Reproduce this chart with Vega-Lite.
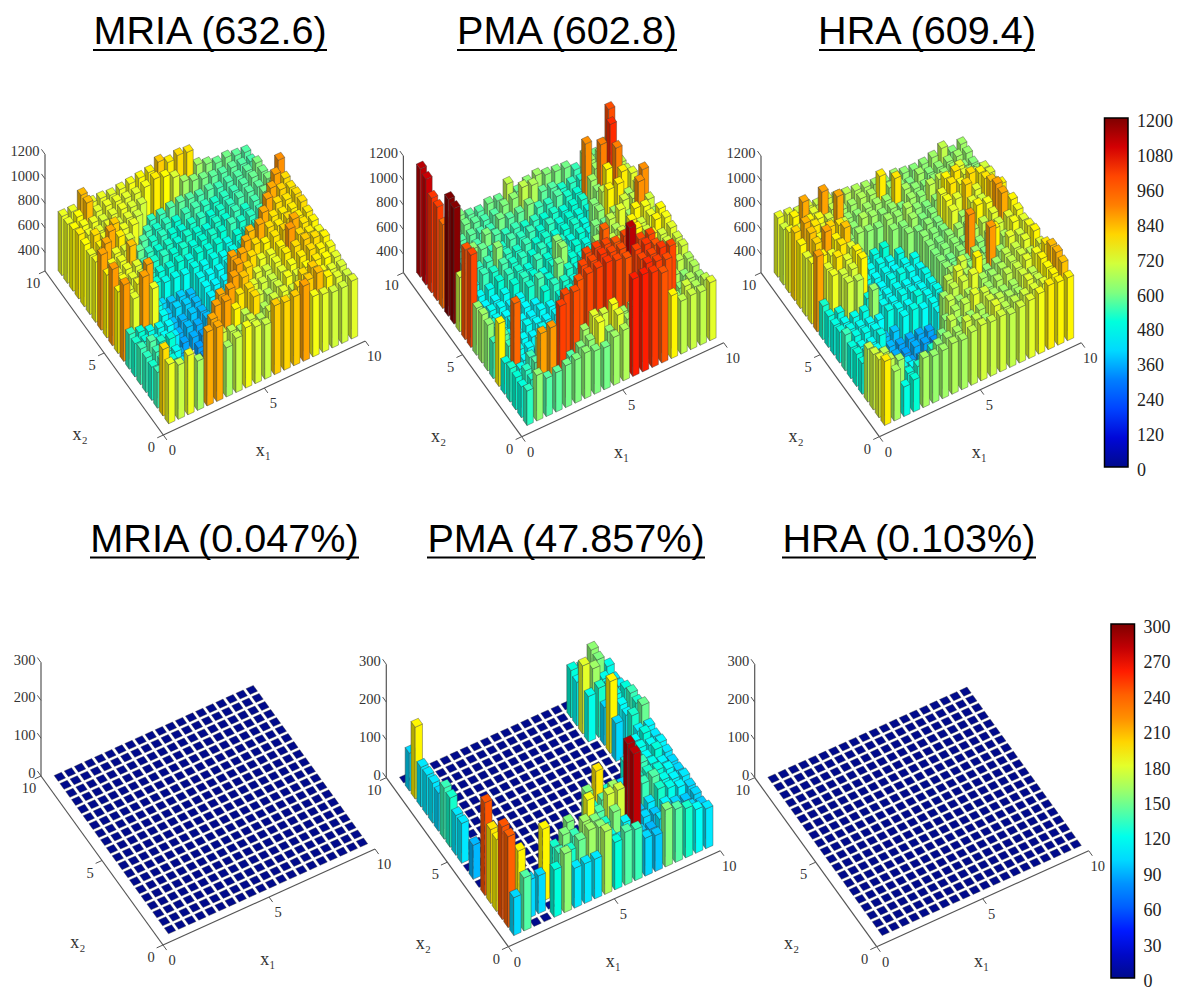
{"$schema":"https://vega.github.io/schema/vega-lite/v6.json","width":1179,"height":989,"padding":0,"autosize":{"type":"none"},"background":"#ffffff","config":{"view":{"stroke":null}},
"datasets":{"bars":[
{"i":0,"j":19,"a":730,"b":1130,"c":730,"d":0,"e":0,"f":0},{"i":1,"j":19,"a":730,"b":560,"c":720,"d":0,"e":0,"f":0},{"i":2,"j":19,"a":830,"b":590,"c":700,"d":0,"e":0,"f":0},{"i":3,"j":19,"a":730,"b":620,"c":710,"d":0,"e":0,"f":0},{"i":4,"j":19,"a":730,"b":600,"c":690,"d":0,"e":0,"f":0},{"i":5,"j":19,"a":720,"b":570,"c":700,"d":0,"e":0,"f":0},{"i":6,"j":19,"a":730,"b":560,"c":680,"d":0,"e":0,"f":0},{"i":7,"j":19,"a":740,"b":590,"c":670,"d":0,"e":0,"f":0},{"i":8,"j":19,"a":750,"b":580,"c":660,"d":0,"e":0,"f":0},{"i":9,"j":19,"a":760,"b":680,"c":650,"d":0,"e":0,"f":0},{"i":10,"j":19,"a":810,"b":580,"c":640,"d":0,"e":0,"f":0},{"i":11,"j":19,"a":770,"b":620,"c":620,"d":0,"e":0,"f":0},{"i":12,"j":19,"a":790,"b":640,"c":640,"d":0,"e":0,"f":0},{"i":13,"j":19,"a":780,"b":610,"c":620,"d":0,"e":0,"f":0},{"i":14,"j":19,"a":640,"b":600,"c":610,"d":0,"e":0,"f":0},{"i":15,"j":19,"a":610,"b":590,"c":620,"d":0,"e":0,"f":0},{"i":16,"j":19,"a":580,"b":540,"c":640,"d":0,"e":0,"f":0},{"i":17,"j":19,"a":590,"b":620,"c":680,"d":0,"e":0,"f":0},{"i":18,"j":19,"a":570,"b":590,"c":610,"d":60,"e":0,"f":0},{"i":19,"j":19,"a":560,"b":640,"c":640,"d":85,"e":0,"f":0},
{"i":0,"j":18,"a":730,"b":1110,"c":700,"d":100,"e":0,"f":0},{"i":1,"j":18,"a":750,"b":570,"c":760,"d":0,"e":0,"f":0},{"i":2,"j":18,"a":830,"b":620,"c":850,"d":0,"e":0,"f":0},{"i":3,"j":18,"a":720,"b":560,"c":720,"d":0,"e":0,"f":0},{"i":4,"j":18,"a":730,"b":590,"c":860,"d":0,"e":0,"f":0},{"i":5,"j":18,"a":730,"b":570,"c":680,"d":0,"e":0,"f":0},{"i":6,"j":18,"a":720,"b":550,"c":640,"d":0,"e":0,"f":0},{"i":7,"j":18,"a":720,"b":560,"c":640,"d":0,"e":0,"f":0},{"i":8,"j":18,"a":740,"b":600,"c":660,"d":0,"e":0,"f":0},{"i":9,"j":18,"a":770,"b":620,"c":650,"d":0,"e":0,"f":0},{"i":10,"j":18,"a":750,"b":680,"c":770,"d":0,"e":0,"f":0},{"i":11,"j":18,"a":710,"b":660,"c":640,"d":0,"e":0,"f":0},{"i":12,"j":18,"a":640,"b":570,"c":620,"d":0,"e":0,"f":0},{"i":13,"j":18,"a":610,"b":560,"c":600,"d":0,"e":0,"f":0},{"i":14,"j":18,"a":590,"b":520,"c":640,"d":0,"e":0,"f":0},{"i":15,"j":18,"a":570,"b":530,"c":610,"d":0,"e":0,"f":0},{"i":16,"j":18,"a":560,"b":520,"c":620,"d":125,"e":0,"f":0},{"i":17,"j":18,"a":570,"b":640,"c":630,"d":120,"e":0,"f":0},{"i":18,"j":18,"a":560,"b":660,"c":640,"d":155,"e":0,"f":0},{"i":19,"j":18,"a":550,"b":990,"c":630,"d":70,"e":0,"f":0},
{"i":0,"j":17,"a":750,"b":1020,"c":740,"d":190,"e":0,"f":0},{"i":1,"j":17,"a":740,"b":540,"c":720,"d":0,"e":0,"f":0},{"i":2,"j":17,"a":730,"b":680,"c":760,"d":0,"e":0,"f":0},{"i":3,"j":17,"a":710,"b":560,"c":740,"d":0,"e":0,"f":0},{"i":4,"j":17,"a":720,"b":570,"c":700,"d":0,"e":0,"f":0},{"i":5,"j":17,"a":730,"b":550,"c":850,"d":0,"e":0,"f":0},{"i":6,"j":17,"a":710,"b":540,"c":630,"d":0,"e":0,"f":0},{"i":7,"j":17,"a":700,"b":590,"c":620,"d":0,"e":0,"f":0},{"i":8,"j":17,"a":530,"b":560,"c":640,"d":0,"e":0,"f":0},{"i":9,"j":17,"a":540,"b":570,"c":640,"d":0,"e":0,"f":0},{"i":10,"j":17,"a":560,"b":600,"c":630,"d":0,"e":0,"f":0},{"i":11,"j":17,"a":570,"b":540,"c":780,"d":0,"e":0,"f":0},{"i":12,"j":17,"a":560,"b":530,"c":650,"d":0,"e":0,"f":0},{"i":13,"j":17,"a":550,"b":560,"c":620,"d":0,"e":0,"f":0},{"i":14,"j":17,"a":560,"b":520,"c":610,"d":0,"e":0,"f":0},{"i":15,"j":17,"a":540,"b":510,"c":620,"d":0,"e":0,"f":0},{"i":16,"j":17,"a":550,"b":880,"c":630,"d":115,"e":0,"f":0},{"i":17,"j":17,"a":560,"b":640,"c":640,"d":125,"e":0,"f":0},{"i":18,"j":17,"a":570,"b":700,"c":620,"d":150,"e":0,"f":0},{"i":19,"j":17,"a":600,"b":660,"c":610,"d":120,"e":0,"f":0},
{"i":0,"j":16,"a":770,"b":1010,"c":800,"d":105,"e":0,"f":0},{"i":1,"j":16,"a":730,"b":530,"c":840,"d":0,"e":0,"f":0},{"i":2,"j":16,"a":720,"b":560,"c":780,"d":0,"e":0,"f":0},{"i":3,"j":16,"a":730,"b":540,"c":720,"d":0,"e":0,"f":0},{"i":4,"j":16,"a":710,"b":550,"c":640,"d":0,"e":0,"f":0},{"i":5,"j":16,"a":720,"b":600,"c":690,"d":0,"e":0,"f":0},{"i":6,"j":16,"a":700,"b":560,"c":620,"d":0,"e":0,"f":0},{"i":7,"j":16,"a":540,"b":530,"c":660,"d":0,"e":0,"f":0},{"i":8,"j":16,"a":520,"b":540,"c":640,"d":0,"e":0,"f":0},{"i":9,"j":16,"a":530,"b":520,"c":620,"d":0,"e":0,"f":0},{"i":10,"j":16,"a":510,"b":530,"c":630,"d":0,"e":0,"f":0},{"i":11,"j":16,"a":540,"b":510,"c":600,"d":0,"e":0,"f":0},{"i":12,"j":16,"a":550,"b":520,"c":640,"d":0,"e":0,"f":0},{"i":13,"j":16,"a":530,"b":500,"c":620,"d":0,"e":0,"f":0},{"i":14,"j":16,"a":520,"b":510,"c":680,"d":0,"e":0,"f":0},{"i":15,"j":16,"a":530,"b":520,"c":690,"d":0,"e":0,"f":0},{"i":16,"j":16,"a":540,"b":640,"c":660,"d":180,"e":0,"f":0},{"i":17,"j":16,"a":560,"b":900,"c":720,"d":160,"e":0,"f":0},{"i":18,"j":16,"a":580,"b":1030,"c":640,"d":120,"e":0,"f":0},{"i":19,"j":16,"a":590,"b":680,"c":620,"d":105,"e":0,"f":0},
{"i":0,"j":15,"a":750,"b":930,"c":760,"d":105,"e":0,"f":0},{"i":1,"j":15,"a":790,"b":540,"c":820,"d":0,"e":0,"f":0},{"i":2,"j":15,"a":730,"b":530,"c":740,"d":0,"e":0,"f":0},{"i":3,"j":15,"a":810,"b":620,"c":800,"d":0,"e":0,"f":0},{"i":4,"j":15,"a":730,"b":580,"c":780,"d":0,"e":0,"f":0},{"i":5,"j":15,"a":730,"b":530,"c":620,"d":0,"e":0,"f":0},{"i":6,"j":15,"a":560,"b":520,"c":640,"d":0,"e":0,"f":0},{"i":7,"j":15,"a":520,"b":550,"c":620,"d":0,"e":0,"f":0},{"i":8,"j":15,"a":530,"b":530,"c":610,"d":0,"e":0,"f":0},{"i":9,"j":15,"a":510,"b":540,"c":640,"d":0,"e":0,"f":0},{"i":10,"j":15,"a":500,"b":510,"c":630,"d":0,"e":0,"f":0},{"i":11,"j":15,"a":520,"b":530,"c":660,"d":0,"e":0,"f":0},{"i":12,"j":15,"a":530,"b":500,"c":620,"d":0,"e":0,"f":0},{"i":13,"j":15,"a":510,"b":510,"c":600,"d":0,"e":0,"f":0},{"i":14,"j":15,"a":520,"b":500,"c":620,"d":0,"e":0,"f":0},{"i":15,"j":15,"a":530,"b":500,"c":760,"d":0,"e":0,"f":0},{"i":16,"j":15,"a":550,"b":620,"c":780,"d":120,"e":0,"f":0},{"i":17,"j":15,"a":560,"b":760,"c":720,"d":130,"e":0,"f":0},{"i":18,"j":15,"a":570,"b":900,"c":690,"d":120,"e":0,"f":0},{"i":19,"j":15,"a":600,"b":680,"c":700,"d":110,"e":0,"f":0},
{"i":0,"j":14,"a":730,"b":1200,"c":720,"d":105,"e":0,"f":0},{"i":1,"j":14,"a":760,"b":520,"c":800,"d":0,"e":0,"f":0},{"i":2,"j":14,"a":850,"b":510,"c":860,"d":0,"e":0,"f":0},{"i":3,"j":14,"a":770,"b":530,"c":760,"d":0,"e":0,"f":0},{"i":4,"j":14,"a":710,"b":540,"c":820,"d":0,"e":0,"f":0},{"i":5,"j":14,"a":580,"b":620,"c":600,"d":0,"e":0,"f":0},{"i":6,"j":14,"a":530,"b":530,"c":480,"d":0,"e":0,"f":0},{"i":7,"j":14,"a":510,"b":520,"c":490,"d":0,"e":0,"f":0},{"i":8,"j":14,"a":520,"b":540,"c":510,"d":0,"e":0,"f":0},{"i":9,"j":14,"a":500,"b":510,"c":620,"d":0,"e":0,"f":0},{"i":10,"j":14,"a":520,"b":520,"c":610,"d":0,"e":0,"f":0},{"i":11,"j":14,"a":510,"b":500,"c":640,"d":0,"e":0,"f":0},{"i":12,"j":14,"a":500,"b":510,"c":600,"d":0,"e":0,"f":0},{"i":13,"j":14,"a":520,"b":520,"c":610,"d":0,"e":0,"f":0},{"i":14,"j":14,"a":510,"b":490,"c":730,"d":0,"e":0,"f":0},{"i":15,"j":14,"a":540,"b":610,"c":780,"d":0,"e":0,"f":0},{"i":16,"j":14,"a":520,"b":680,"c":740,"d":0,"e":0,"f":0},{"i":17,"j":14,"a":550,"b":640,"c":790,"d":100,"e":0,"f":0},{"i":18,"j":14,"a":590,"b":770,"c":760,"d":120,"e":0,"f":0},{"i":19,"j":14,"a":620,"b":720,"c":720,"d":125,"e":0,"f":0},
{"i":0,"j":13,"a":740,"b":1190,"c":740,"d":100,"e":0,"f":0},{"i":1,"j":13,"a":850,"b":500,"c":760,"d":0,"e":0,"f":0},{"i":2,"j":13,"a":730,"b":480,"c":730,"d":0,"e":0,"f":0},{"i":3,"j":13,"a":720,"b":540,"c":780,"d":0,"e":0,"f":0},{"i":4,"j":13,"a":570,"b":520,"c":720,"d":0,"e":0,"f":0},{"i":5,"j":13,"a":540,"b":550,"c":620,"d":0,"e":0,"f":0},{"i":6,"j":13,"a":520,"b":520,"c":470,"d":0,"e":0,"f":0},{"i":7,"j":13,"a":530,"b":530,"c":480,"d":0,"e":0,"f":0},{"i":8,"j":13,"a":510,"b":510,"c":460,"d":0,"e":0,"f":0},{"i":9,"j":13,"a":520,"b":530,"c":490,"d":0,"e":0,"f":0},{"i":10,"j":13,"a":500,"b":500,"c":620,"d":0,"e":0,"f":0},{"i":11,"j":13,"a":510,"b":520,"c":600,"d":0,"e":0,"f":0},{"i":12,"j":13,"a":520,"b":490,"c":620,"d":0,"e":0,"f":0},{"i":13,"j":13,"a":510,"b":510,"c":600,"d":0,"e":0,"f":0},{"i":14,"j":13,"a":540,"b":480,"c":740,"d":0,"e":0,"f":0},{"i":15,"j":13,"a":520,"b":620,"c":720,"d":0,"e":0,"f":0},{"i":16,"j":13,"a":530,"b":760,"c":800,"d":0,"e":0,"f":0},{"i":17,"j":13,"a":540,"b":770,"c":720,"d":190,"e":0,"f":0},{"i":18,"j":13,"a":620,"b":650,"c":780,"d":115,"e":0,"f":0},{"i":19,"j":13,"a":880,"b":690,"c":700,"d":135,"e":0,"f":0},
{"i":0,"j":12,"a":860,"b":690,"c":860,"d":135,"e":0,"f":0},{"i":1,"j":12,"a":740,"b":470,"c":720,"d":0,"e":0,"f":0},{"i":2,"j":12,"a":730,"b":460,"c":780,"d":0,"e":0,"f":0},{"i":3,"j":12,"a":820,"b":480,"c":720,"d":0,"e":0,"f":0},{"i":4,"j":12,"a":540,"b":510,"c":760,"d":0,"e":0,"f":0},{"i":5,"j":12,"a":520,"b":530,"c":480,"d":0,"e":0,"f":0},{"i":6,"j":12,"a":500,"b":520,"c":460,"d":0,"e":0,"f":0},{"i":7,"j":12,"a":500,"b":500,"c":470,"d":0,"e":0,"f":0},{"i":8,"j":12,"a":510,"b":540,"c":450,"d":0,"e":0,"f":0},{"i":9,"j":12,"a":490,"b":510,"c":470,"d":0,"e":0,"f":0},{"i":10,"j":12,"a":510,"b":620,"c":480,"d":0,"e":0,"f":0},{"i":11,"j":12,"a":500,"b":500,"c":620,"d":0,"e":0,"f":0},{"i":12,"j":12,"a":510,"b":510,"c":610,"d":0,"e":0,"f":0},{"i":13,"j":12,"a":480,"b":490,"c":600,"d":0,"e":0,"f":0},{"i":14,"j":12,"a":510,"b":600,"c":720,"d":0,"e":0,"f":0},{"i":15,"j":12,"a":500,"b":580,"c":640,"d":0,"e":0,"f":0},{"i":16,"j":12,"a":520,"b":640,"c":720,"d":0,"e":0,"f":0},{"i":17,"j":12,"a":600,"b":700,"c":700,"d":100,"e":0,"f":0},{"i":18,"j":12,"a":860,"b":680,"c":820,"d":110,"e":0,"f":0},{"i":19,"j":12,"a":790,"b":880,"c":760,"d":130,"e":0,"f":0},
{"i":0,"j":11,"a":760,"b":980,"c":520,"d":130,"e":0,"f":0},{"i":1,"j":11,"a":730,"b":460,"c":730,"d":0,"e":0,"f":0},{"i":2,"j":11,"a":730,"b":440,"c":700,"d":0,"e":0,"f":0},{"i":3,"j":11,"a":720,"b":450,"c":710,"d":0,"e":0,"f":0},{"i":4,"j":11,"a":510,"b":470,"c":760,"d":0,"e":0,"f":0},{"i":5,"j":11,"a":510,"b":510,"c":470,"d":0,"e":0,"f":0},{"i":6,"j":11,"a":480,"b":530,"c":450,"d":0,"e":0,"f":0},{"i":7,"j":11,"a":480,"b":510,"c":480,"d":0,"e":0,"f":0},{"i":8,"j":11,"a":470,"b":490,"c":490,"d":0,"e":0,"f":0},{"i":9,"j":11,"a":490,"b":520,"c":470,"d":0,"e":0,"f":0},{"i":10,"j":11,"a":470,"b":630,"c":460,"d":0,"e":0,"f":0},{"i":11,"j":11,"a":490,"b":510,"c":610,"d":0,"e":0,"f":0},{"i":12,"j":11,"a":470,"b":480,"c":600,"d":0,"e":0,"f":0},{"i":13,"j":11,"a":480,"b":500,"c":620,"d":0,"e":0,"f":0},{"i":14,"j":11,"a":490,"b":610,"c":640,"d":0,"e":0,"f":0},{"i":15,"j":11,"a":500,"b":680,"c":620,"d":0,"e":0,"f":0},{"i":16,"j":11,"a":540,"b":720,"c":760,"d":0,"e":0,"f":0},{"i":17,"j":11,"a":850,"b":640,"c":740,"d":0,"e":0,"f":0},{"i":18,"j":11,"a":800,"b":880,"c":860,"d":130,"e":0,"f":0},{"i":19,"j":11,"a":780,"b":700,"c":700,"d":145,"e":0,"f":0},
{"i":0,"j":10,"a":870,"b":1000,"c":500,"d":105,"e":0,"f":0},{"i":1,"j":10,"a":740,"b":450,"c":490,"d":0,"e":0,"f":0},{"i":2,"j":10,"a":720,"b":470,"c":700,"d":0,"e":0,"f":0},{"i":3,"j":10,"a":710,"b":460,"c":680,"d":0,"e":0,"f":0},{"i":4,"j":10,"a":500,"b":440,"c":500,"d":0,"e":0,"f":0},{"i":5,"j":10,"a":400,"b":460,"c":480,"d":0,"e":0,"f":0},{"i":6,"j":10,"a":380,"b":520,"c":460,"d":0,"e":0,"f":0},{"i":7,"j":10,"a":390,"b":550,"c":470,"d":0,"e":0,"f":0},{"i":8,"j":10,"a":370,"b":510,"c":460,"d":0,"e":0,"f":0},{"i":9,"j":10,"a":470,"b":600,"c":450,"d":0,"e":0,"f":0},{"i":10,"j":10,"a":460,"b":520,"c":480,"d":0,"e":0,"f":0},{"i":11,"j":10,"a":460,"b":490,"c":600,"d":0,"e":0,"f":0},{"i":12,"j":10,"a":470,"b":470,"c":610,"d":0,"e":0,"f":0},{"i":13,"j":10,"a":460,"b":640,"c":620,"d":0,"e":0,"f":0},{"i":14,"j":10,"a":470,"b":590,"c":600,"d":0,"e":0,"f":0},{"i":15,"j":10,"a":520,"b":660,"c":660,"d":0,"e":0,"f":0},{"i":16,"j":10,"a":860,"b":600,"c":680,"d":0,"e":0,"f":0},{"i":17,"j":10,"a":790,"b":760,"c":720,"d":0,"e":0,"f":0},{"i":18,"j":10,"a":780,"b":740,"c":850,"d":110,"e":0,"f":0},{"i":19,"j":10,"a":790,"b":650,"c":760,"d":110,"e":0,"f":0},
{"i":0,"j":9,"a":750,"b":630,"c":490,"d":105,"e":0,"f":0},{"i":1,"j":9,"a":720,"b":440,"c":470,"d":0,"e":0,"f":0},{"i":2,"j":9,"a":740,"b":460,"c":480,"d":0,"e":0,"f":0},{"i":3,"j":9,"a":860,"b":450,"c":490,"d":0,"e":0,"f":0},{"i":4,"j":9,"a":480,"b":470,"c":630,"d":0,"e":0,"f":0},{"i":5,"j":9,"a":380,"b":450,"c":470,"d":0,"e":0,"f":0},{"i":6,"j":9,"a":400,"b":440,"c":460,"d":0,"e":0,"f":0},{"i":7,"j":9,"a":390,"b":510,"c":480,"d":0,"e":0,"f":0},{"i":8,"j":9,"a":370,"b":530,"c":470,"d":0,"e":0,"f":0},{"i":9,"j":9,"a":460,"b":520,"c":460,"d":0,"e":0,"f":0},{"i":10,"j":9,"a":440,"b":490,"c":470,"d":0,"e":0,"f":0},{"i":11,"j":9,"a":440,"b":480,"c":610,"d":0,"e":0,"f":0},{"i":12,"j":9,"a":450,"b":620,"c":590,"d":0,"e":0,"f":0},{"i":13,"j":9,"a":460,"b":610,"c":620,"d":0,"e":0,"f":0},{"i":14,"j":9,"a":500,"b":680,"c":880,"d":0,"e":0,"f":0},{"i":15,"j":9,"a":850,"b":700,"c":620,"d":0,"e":0,"f":0},{"i":16,"j":9,"a":780,"b":760,"c":640,"d":0,"e":0,"f":0},{"i":17,"j":9,"a":770,"b":700,"c":700,"d":115,"e":0,"f":0},{"i":18,"j":9,"a":770,"b":730,"c":720,"d":125,"e":0,"f":0},{"i":19,"j":9,"a":790,"b":750,"c":740,"d":105,"e":0,"f":0},
{"i":0,"j":8,"a":870,"b":640,"c":500,"d":0,"e":0,"f":0},{"i":1,"j":8,"a":720,"b":520,"c":480,"d":0,"e":0,"f":0},{"i":2,"j":8,"a":860,"b":450,"c":470,"d":0,"e":0,"f":0},{"i":3,"j":8,"a":730,"b":470,"c":460,"d":0,"e":0,"f":0},{"i":4,"j":8,"a":470,"b":450,"c":450,"d":0,"e":0,"f":0},{"i":5,"j":8,"a":370,"b":440,"c":490,"d":0,"e":0,"f":0},{"i":6,"j":8,"a":360,"b":460,"c":470,"d":0,"e":0,"f":0},{"i":7,"j":8,"a":380,"b":450,"c":460,"d":0,"e":0,"f":0},{"i":8,"j":8,"a":360,"b":500,"c":500,"d":0,"e":0,"f":0},{"i":9,"j":8,"a":440,"b":510,"c":470,"d":0,"e":0,"f":0},{"i":10,"j":8,"a":430,"b":480,"c":480,"d":0,"e":0,"f":0},{"i":11,"j":8,"a":430,"b":640,"c":620,"d":0,"e":0,"f":0},{"i":12,"j":8,"a":460,"b":620,"c":590,"d":0,"e":0,"f":0},{"i":13,"j":8,"a":830,"b":700,"c":610,"d":0,"e":0,"f":0},{"i":14,"j":8,"a":850,"b":720,"c":640,"d":0,"e":0,"f":0},{"i":15,"j":8,"a":790,"b":720,"c":600,"d":0,"e":0,"f":0},{"i":16,"j":8,"a":770,"b":760,"c":760,"d":130,"e":0,"f":0},{"i":17,"j":8,"a":790,"b":700,"c":660,"d":120,"e":0,"f":0},{"i":18,"j":8,"a":770,"b":760,"c":740,"d":115,"e":0,"f":0},{"i":19,"j":8,"a":770,"b":740,"c":720,"d":110,"e":0,"f":0},
{"i":0,"j":7,"a":530,"b":620,"c":540,"d":90,"e":0,"f":0},{"i":1,"j":7,"a":510,"b":540,"c":490,"d":0,"e":0,"f":0},{"i":2,"j":7,"a":480,"b":460,"c":480,"d":0,"e":0,"f":0},{"i":3,"j":7,"a":470,"b":440,"c":470,"d":0,"e":0,"f":0},{"i":4,"j":7,"a":450,"b":470,"c":370,"d":0,"e":0,"f":0},{"i":5,"j":7,"a":350,"b":450,"c":380,"d":0,"e":0,"f":0},{"i":6,"j":7,"a":370,"b":440,"c":470,"d":0,"e":0,"f":0},{"i":7,"j":7,"a":350,"b":450,"c":490,"d":0,"e":0,"f":0},{"i":8,"j":7,"a":370,"b":460,"c":460,"d":0,"e":0,"f":0},{"i":9,"j":7,"a":430,"b":480,"c":470,"d":0,"e":0,"f":0},{"i":10,"j":7,"a":420,"b":460,"c":480,"d":0,"e":0,"f":0},{"i":11,"j":7,"a":450,"b":480,"c":650,"d":0,"e":0,"f":0},{"i":12,"j":7,"a":850,"b":960,"c":700,"d":0,"e":0,"f":0},{"i":13,"j":7,"a":790,"b":640,"c":620,"d":0,"e":0,"f":0},{"i":14,"j":7,"a":760,"b":680,"c":640,"d":0,"e":0,"f":0},{"i":15,"j":7,"a":780,"b":700,"c":870,"d":125,"e":0,"f":0},{"i":16,"j":7,"a":800,"b":660,"c":640,"d":130,"e":0,"f":0},{"i":17,"j":7,"a":850,"b":740,"c":720,"d":115,"e":0,"f":0},{"i":18,"j":7,"a":780,"b":700,"c":700,"d":125,"e":0,"f":0},{"i":19,"j":7,"a":760,"b":720,"c":740,"d":105,"e":0,"f":0},
{"i":0,"j":6,"a":520,"b":540,"c":500,"d":0,"e":0,"f":0},{"i":1,"j":6,"a":500,"b":560,"c":470,"d":0,"e":0,"f":0},{"i":2,"j":6,"a":470,"b":450,"c":460,"d":0,"e":0,"f":0},{"i":3,"j":6,"a":460,"b":460,"c":490,"d":0,"e":0,"f":0},{"i":4,"j":6,"a":430,"b":440,"c":360,"d":0,"e":0,"f":0},{"i":5,"j":6,"a":340,"b":470,"c":340,"d":0,"e":0,"f":0},{"i":6,"j":6,"a":350,"b":450,"c":350,"d":0,"e":0,"f":0},{"i":7,"j":6,"a":330,"b":440,"c":350,"d":0,"e":0,"f":0},{"i":8,"j":6,"a":350,"b":430,"c":340,"d":0,"e":0,"f":0},{"i":9,"j":6,"a":360,"b":460,"c":460,"d":0,"e":0,"f":0},{"i":10,"j":6,"a":860,"b":480,"c":680,"d":0,"e":0,"f":0},{"i":11,"j":6,"a":850,"b":470,"c":720,"d":0,"e":0,"f":0},{"i":12,"j":6,"a":790,"b":470,"c":660,"d":0,"e":0,"f":0},{"i":13,"j":6,"a":730,"b":650,"c":760,"d":0,"e":0,"f":0},{"i":14,"j":6,"a":730,"b":620,"c":620,"d":100,"e":0,"f":0},{"i":15,"j":6,"a":760,"b":660,"c":640,"d":125,"e":0,"f":0},{"i":16,"j":6,"a":870,"b":680,"c":680,"d":135,"e":0,"f":0},{"i":17,"j":6,"a":790,"b":660,"c":690,"d":120,"e":0,"f":0},{"i":18,"j":6,"a":770,"b":700,"c":720,"d":110,"e":0,"f":0},{"i":19,"j":6,"a":740,"b":700,"c":760,"d":100,"e":0,"f":0},
{"i":0,"j":5,"a":540,"b":760,"c":510,"d":245,"e":0,"f":0},{"i":1,"j":5,"a":560,"b":540,"c":480,"d":0,"e":0,"f":0},{"i":2,"j":5,"a":520,"b":470,"c":470,"d":0,"e":0,"f":0},{"i":3,"j":5,"a":510,"b":450,"c":360,"d":0,"e":0,"f":0},{"i":4,"j":5,"a":350,"b":380,"c":350,"d":0,"e":0,"f":0},{"i":5,"j":5,"a":240,"b":350,"c":330,"d":0,"e":0,"f":0},{"i":6,"j":5,"a":330,"b":360,"c":350,"d":0,"e":0,"f":0},{"i":7,"j":5,"a":300,"b":440,"c":340,"d":0,"e":0,"f":0},{"i":8,"j":5,"a":340,"b":470,"c":320,"d":0,"e":0,"f":0},{"i":9,"j":5,"a":420,"b":1000,"c":640,"d":0,"e":0,"f":0},{"i":10,"j":5,"a":860,"b":1010,"c":680,"d":150,"e":0,"f":0},{"i":11,"j":5,"a":800,"b":1000,"c":700,"d":195,"e":0,"f":0},{"i":12,"j":5,"a":720,"b":980,"c":720,"d":130,"e":0,"f":0},{"i":13,"j":5,"a":700,"b":1000,"c":650,"d":115,"e":0,"f":0},{"i":14,"j":5,"a":730,"b":660,"c":640,"d":95,"e":0,"f":0},{"i":15,"j":5,"a":770,"b":640,"c":660,"d":130,"e":0,"f":0},{"i":16,"j":5,"a":790,"b":680,"c":680,"d":130,"e":0,"f":0},{"i":17,"j":5,"a":810,"b":620,"c":700,"d":125,"e":0,"f":0},{"i":18,"j":5,"a":790,"b":720,"c":680,"d":115,"e":0,"f":0},{"i":19,"j":5,"a":760,"b":700,"c":720,"d":100,"e":0,"f":0},
{"i":0,"j":4,"a":530,"b":500,"c":500,"d":195,"e":0,"f":0},{"i":1,"j":4,"a":540,"b":950,"c":490,"d":0,"e":0,"f":0},{"i":2,"j":4,"a":500,"b":450,"c":480,"d":0,"e":0,"f":0},{"i":3,"j":4,"a":470,"b":400,"c":350,"d":0,"e":0,"f":0},{"i":4,"j":4,"a":330,"b":340,"c":340,"d":0,"e":0,"f":0},{"i":5,"j":4,"a":230,"b":330,"c":330,"d":0,"e":0,"f":0},{"i":6,"j":4,"a":320,"b":440,"c":320,"d":0,"e":0,"f":0},{"i":7,"j":4,"a":340,"b":480,"c":310,"d":0,"e":0,"f":0},{"i":8,"j":4,"a":360,"b":1000,"c":330,"d":0,"e":0,"f":0},{"i":9,"j":4,"a":860,"b":1000,"c":680,"d":0,"e":0,"f":0},{"i":10,"j":4,"a":820,"b":1020,"c":640,"d":130,"e":0,"f":0},{"i":11,"j":4,"a":720,"b":1000,"c":660,"d":140,"e":0,"f":0},{"i":12,"j":4,"a":700,"b":990,"c":620,"d":160,"e":0,"f":0},{"i":13,"j":4,"a":690,"b":1130,"c":640,"d":100,"e":0,"f":0},{"i":14,"j":4,"a":720,"b":1000,"c":660,"d":100,"e":0,"f":0},{"i":15,"j":4,"a":740,"b":1000,"c":680,"d":135,"e":0,"f":0},{"i":16,"j":4,"a":770,"b":620,"c":690,"d":140,"e":0,"f":0},{"i":17,"j":4,"a":790,"b":640,"c":720,"d":120,"e":0,"f":0},{"i":18,"j":4,"a":760,"b":680,"c":740,"d":110,"e":0,"f":0},{"i":19,"j":4,"a":740,"b":660,"c":780,"d":105,"e":0,"f":0},
{"i":0,"j":3,"a":520,"b":520,"c":680,"d":190,"e":0,"f":0},{"i":1,"j":3,"a":530,"b":480,"c":520,"d":0,"e":0,"f":0},{"i":2,"j":3,"a":500,"b":540,"c":470,"d":0,"e":0,"f":0},{"i":3,"j":3,"a":440,"b":640,"c":440,"d":0,"e":0,"f":0},{"i":4,"j":3,"a":400,"b":240,"c":420,"d":0,"e":0,"f":0},{"i":5,"j":3,"a":330,"b":380,"c":340,"d":0,"e":0,"f":0},{"i":6,"j":3,"a":340,"b":470,"c":320,"d":0,"e":0,"f":0},{"i":7,"j":3,"a":850,"b":980,"c":300,"d":150,"e":0,"f":0},{"i":8,"j":3,"a":860,"b":1000,"c":620,"d":0,"e":0,"f":0},{"i":9,"j":3,"a":780,"b":1010,"c":660,"d":185,"e":0,"f":0},{"i":10,"j":3,"a":790,"b":1020,"c":680,"d":140,"e":0,"f":0},{"i":11,"j":3,"a":700,"b":1000,"c":720,"d":175,"e":0,"f":0},{"i":12,"j":3,"a":670,"b":980,"c":700,"d":175,"e":0,"f":0},{"i":13,"j":3,"a":700,"b":1010,"c":650,"d":285,"e":0,"f":0},{"i":14,"j":3,"a":740,"b":1020,"c":640,"d":95,"e":0,"f":0},{"i":15,"j":3,"a":720,"b":980,"c":650,"d":105,"e":0,"f":0},{"i":16,"j":3,"a":750,"b":640,"c":700,"d":130,"e":0,"f":0},{"i":17,"j":3,"a":770,"b":660,"c":680,"d":120,"e":0,"f":0},{"i":18,"j":3,"a":750,"b":620,"c":760,"d":110,"e":0,"f":0},{"i":19,"j":3,"a":720,"b":660,"c":830,"d":100,"e":0,"f":0},
{"i":0,"j":2,"a":540,"b":510,"c":700,"d":245,"e":0,"f":0},{"i":1,"j":2,"a":520,"b":530,"c":670,"d":0,"e":0,"f":0},{"i":2,"j":2,"a":470,"b":560,"c":510,"d":0,"e":0,"f":0},{"i":3,"j":2,"a":450,"b":600,"c":480,"d":0,"e":0,"f":0},{"i":4,"j":2,"a":430,"b":620,"c":450,"d":190,"e":0,"f":0},{"i":5,"j":2,"a":430,"b":1000,"c":480,"d":130,"e":0,"f":0},{"i":6,"j":2,"a":860,"b":990,"c":520,"d":150,"e":0,"f":0},{"i":7,"j":2,"a":860,"b":640,"c":600,"d":135,"e":0,"f":0},{"i":8,"j":2,"a":760,"b":720,"c":680,"d":160,"e":0,"f":0},{"i":9,"j":2,"a":680,"b":700,"c":630,"d":150,"e":0,"f":0},{"i":10,"j":2,"a":790,"b":740,"c":640,"d":130,"e":0,"f":0},{"i":11,"j":2,"a":660,"b":640,"c":660,"d":150,"e":0,"f":0},{"i":12,"j":2,"a":700,"b":650,"c":700,"d":110,"e":0,"f":0},{"i":13,"j":2,"a":720,"b":1000,"c":680,"d":280,"e":0,"f":0},{"i":14,"j":2,"a":700,"b":1000,"c":660,"d":100,"e":0,"f":0},{"i":15,"j":2,"a":790,"b":1020,"c":650,"d":95,"e":0,"f":0},{"i":16,"j":2,"a":810,"b":1000,"c":720,"d":110,"e":0,"f":0},{"i":17,"j":2,"a":740,"b":620,"c":690,"d":100,"e":0,"f":0},{"i":18,"j":2,"a":720,"b":660,"c":750,"d":95,"e":0,"f":0},{"i":19,"j":2,"a":710,"b":640,"c":840,"d":100,"e":0,"f":0},
{"i":0,"j":1,"a":790,"b":500,"c":720,"d":240,"e":0,"f":0},{"i":1,"j":1,"a":530,"b":520,"c":680,"d":190,"e":0,"f":0},{"i":2,"j":1,"a":480,"b":860,"c":640,"d":100,"e":0,"f":0},{"i":3,"j":1,"a":470,"b":870,"c":500,"d":100,"e":0,"f":0},{"i":4,"j":1,"a":450,"b":1010,"c":520,"d":0,"e":0,"f":0},{"i":5,"j":1,"a":850,"b":560,"c":540,"d":135,"e":0,"f":0},{"i":6,"j":1,"a":700,"b":600,"c":620,"d":130,"e":0,"f":0},{"i":7,"j":1,"a":680,"b":620,"c":640,"d":145,"e":0,"f":0},{"i":8,"j":1,"a":650,"b":730,"c":650,"d":160,"e":0,"f":0},{"i":9,"j":1,"a":700,"b":620,"c":700,"d":155,"e":0,"f":0},{"i":10,"j":1,"a":670,"b":720,"c":680,"d":120,"e":0,"f":0},{"i":11,"j":1,"a":700,"b":650,"c":640,"d":100,"e":0,"f":0},{"i":12,"j":1,"a":720,"b":660,"c":720,"d":100,"e":0,"f":0},{"i":13,"j":1,"a":710,"b":1030,"c":670,"d":95,"e":0,"f":0},{"i":14,"j":1,"a":790,"b":1010,"c":680,"d":90,"e":0,"f":0},{"i":15,"j":1,"a":810,"b":990,"c":700,"d":105,"e":0,"f":0},{"i":16,"j":1,"a":830,"b":640,"c":710,"d":100,"e":0,"f":0},{"i":17,"j":1,"a":760,"b":700,"c":720,"d":95,"e":0,"f":0},{"i":18,"j":1,"a":720,"b":660,"c":760,"d":100,"e":0,"f":0},{"i":19,"j":1,"a":700,"b":680,"c":820,"d":95,"e":0,"f":0},
{"i":0,"j":0,"a":730,"b":530,"c":770,"d":100,"e":0,"f":0},{"i":1,"j":0,"a":690,"b":620,"c":650,"d":140,"e":0,"f":0},{"i":2,"j":0,"a":730,"b":560,"c":490,"d":0,"e":0,"f":0},{"i":3,"j":0,"a":650,"b":570,"c":510,"d":0,"e":0,"f":0},{"i":4,"j":0,"a":850,"b":590,"c":650,"d":125,"e":0,"f":0},{"i":5,"j":0,"a":850,"b":600,"c":630,"d":155,"e":0,"f":0},{"i":6,"j":0,"a":650,"b":620,"c":640,"d":105,"e":0,"f":0},{"i":7,"j":0,"a":690,"b":600,"c":660,"d":105,"e":0,"f":0},{"i":8,"j":0,"a":740,"b":590,"c":650,"d":105,"e":0,"f":0},{"i":9,"j":0,"a":710,"b":640,"c":680,"d":165,"e":0,"f":0},{"i":10,"j":0,"a":690,"b":660,"c":700,"d":125,"e":0,"f":0},{"i":11,"j":0,"a":810,"b":1040,"c":690,"d":140,"e":0,"f":0},{"i":12,"j":0,"a":800,"b":1040,"c":700,"d":135,"e":0,"f":0},{"i":13,"j":0,"a":810,"b":1020,"c":680,"d":100,"e":0,"f":0},{"i":14,"j":0,"a":860,"b":980,"c":700,"d":95,"e":0,"f":0},{"i":15,"j":0,"a":740,"b":760,"c":720,"d":150,"e":0,"f":0},{"i":16,"j":0,"a":720,"b":680,"c":740,"d":140,"e":0,"f":0},{"i":17,"j":0,"a":700,"b":690,"c":770,"d":130,"e":0,"f":0},{"i":18,"j":0,"a":700,"b":680,"c":760,"d":115,"e":0,"f":0},{"i":19,"j":0,"a":720,"b":720,"c":760,"d":105,"e":0,"f":0}
],
"ticks":[
{"p":0,"k":"x1","v":0},{"p":0,"k":"x1","v":5},{"p":0,"k":"x1","v":10},{"p":0,"k":"x2","v":0},{"p":0,"k":"x2","v":5},{"p":0,"k":"x2","v":10},{"p":0,"k":"z","v":400},{"p":0,"k":"z","v":600},{"p":0,"k":"z","v":800},{"p":0,"k":"z","v":1000},{"p":0,"k":"z","v":1200},
{"p":1,"k":"x1","v":0},{"p":1,"k":"x1","v":5},{"p":1,"k":"x1","v":10},{"p":1,"k":"x2","v":0},{"p":1,"k":"x2","v":5},{"p":1,"k":"x2","v":10},{"p":1,"k":"z","v":400},{"p":1,"k":"z","v":600},{"p":1,"k":"z","v":800},{"p":1,"k":"z","v":1000},{"p":1,"k":"z","v":1200},
{"p":2,"k":"x1","v":0},{"p":2,"k":"x1","v":5},{"p":2,"k":"x1","v":10},{"p":2,"k":"x2","v":0},{"p":2,"k":"x2","v":5},{"p":2,"k":"x2","v":10},{"p":2,"k":"z","v":400},{"p":2,"k":"z","v":600},{"p":2,"k":"z","v":800},{"p":2,"k":"z","v":1000},{"p":2,"k":"z","v":1200},
{"p":3,"k":"x1","v":0},{"p":3,"k":"x1","v":5},{"p":3,"k":"x1","v":10},{"p":3,"k":"x2","v":0},{"p":3,"k":"x2","v":5},{"p":3,"k":"x2","v":10},{"p":3,"k":"z","v":0},{"p":3,"k":"z","v":100},{"p":3,"k":"z","v":200},{"p":3,"k":"z","v":300},
{"p":4,"k":"x1","v":0},{"p":4,"k":"x1","v":5},{"p":4,"k":"x1","v":10},{"p":4,"k":"x2","v":0},{"p":4,"k":"x2","v":5},{"p":4,"k":"x2","v":10},{"p":4,"k":"z","v":0},{"p":4,"k":"z","v":100},{"p":4,"k":"z","v":200},{"p":4,"k":"z","v":300},
{"p":5,"k":"x1","v":0},{"p":5,"k":"x1","v":5},{"p":5,"k":"x1","v":10},{"p":5,"k":"x2","v":0},{"p":5,"k":"x2","v":5},{"p":5,"k":"x2","v":10},{"p":5,"k":"z","v":0},{"p":5,"k":"z","v":100},{"p":5,"k":"z","v":200},{"p":5,"k":"z","v":300}
],
"axes":[
{"p":0,"k":"x1","t":"x₁"},{"p":0,"k":"x2","t":"x₂"},{"p":0,"k":"z","t":""},
{"p":1,"k":"x1","t":"x₁"},{"p":1,"k":"x2","t":"x₂"},{"p":1,"k":"z","t":""},
{"p":2,"k":"x1","t":"x₁"},{"p":2,"k":"x2","t":"x₂"},{"p":2,"k":"z","t":""},
{"p":3,"k":"x1","t":"x₁"},{"p":3,"k":"x2","t":"x₂"},{"p":3,"k":"z","t":""},
{"p":4,"k":"x1","t":"x₁"},{"p":4,"k":"x2","t":"x₂"},{"p":4,"k":"z","t":""},
{"p":5,"k":"x1","t":"x₁"},{"p":5,"k":"x2","t":"x₂"},{"p":5,"k":"z","t":""}
],
"titles":[{"p":0,"t":"MRIA (632.6)"},{"p":1,"t":"PMA (602.8)"},{"p":2,"t":"HRA (609.4)"},{"p":3,"t":"MRIA (0.047%)"},{"p":4,"t":"PMA (47.857%)"},{"p":5,"t":"HRA (0.103%)"}]
},
"encoding":{"x":{"field":"px","type":"quantitative","scale":{"domain":[0,1179],"nice":false,"zero":false},"axis":null},"y":{"field":"py","type":"quantitative","scale":{"domain":[989,0],"nice":false,"zero":false},"axis":null}},
"resolve":{"scale":{"color":"independent"}},
"layer":[
{"data":{"name":"bars"},
"transform":[{"fold":["a","b","c"],"as":["m","v"]},{"filter":"datum.v>250"},{"calculate":"indexof('abc',datum.m)","as":"p"},
{"calculate":"[163.3,521.7,879.3][datum.p]+(datum.i+1.37)*9.62-(datum.j+1.17)*5.62","as":"px"},
{"calculate":"[435,436.7,436.7][datum.p]-(datum.i+1.37)*4.46-(datum.j+1.17)*7.8","as":"py"},
{"calculate":"round((datum.v-250)*1.229)/10","as":"H"},
{"calculate":"['L','S','R','T']","as":"f"},{"flatten":["f"]},
{"calculate":"(40-datum.i-datum.j)*10+indexof('LSRT',datum.f)","as":"o"},
{"calculate":"datum.f==='T'?'M-1.31 '+(4.03-datum.H)+'L5.03 '+(1.1-datum.H)+'L1.31 '+(-4.03-datum.H)+'L-5.03 '+(-1.1-datum.H)+'Z':datum.f==='R'?'M-1.31 4.03L5.03 1.1L5.03 '+(1.1-datum.H)+'L-1.31 '+(4.03-datum.H)+'Z':'M-5.03 -1.1L-1.31 4.03L-1.31 '+(4.03-datum.H)+'L-5.03 '+(-1.1-datum.H)+'Z'","as":"path"}],
"mark":{"type":"point","filled":true,"size":4,"stroke":"#3a3a3a","strokeWidth":0.4},
"encoding":{"shape":{"field":"path","type":"nominal","scale":null,"legend":null},"order":{"field":"o","type":"quantitative"},
"opacity":{"condition":{"test":"datum.f==='S'","value":0.3},"value":1},
"color":{"condition":{"test":"datum.f==='S'","value":"#000000"},"field":"v","type":"quantitative","scale":{"domain":[0,1200],"range":["#000a8c","#0000ff","#007fff","#00ffff","#7fff7f","#ffff00","#ff7f00","#ff0000","#7f0000"]},
"legend":{"orient":"none","legendX":1104.5,"legendY":118,"direction":"vertical","title":null,"format":"d","gradientLength":349,"gradientThickness":23.5,"gradientStrokeColor":"#000000","gradientStrokeWidth":1.5,"values":[0,120,240,360,480,600,720,840,960,1080,1200],"labelFont":"Liberation Serif","labelFontSize":18,"labelColor":"#222222","labelOverlap":false,"labelOffset":9,"encoding":{"labels":{"baseline":{"value":"middle"},"dy":{"value":4}}}}}}},
{"data":{"name":"bars"},
"transform":[{"fold":["e","d","f"],"as":["m","v"]},{"calculate":"3+indexof('edf',datum.m)","as":"p"},
{"calculate":"[0,0,0,163,508.3,876.7][datum.p]+(datum.i+1.37)*10.1-(datum.j+1.17)*5.8","as":"px"},
{"calculate":"[0,0,0,945,946.7,946.7][datum.p]-(datum.i+1.37)*4.57-(datum.j+1.17)*8.03","as":"py"},
{"calculate":"round(datum.v*3.78)/10","as":"H"},
{"calculate":"['L','S','R','T']","as":"f"},{"flatten":["f"]},{"filter":"datum.v>0||datum.f==='T'"},
{"calculate":"(40-datum.i-datum.j)*10+indexof('LSRT',datum.f)","as":"o"},
{"calculate":"datum.f==='T'?'M-1.56 '+(4.53-datum.H)+'L5.72 '+(1.25-datum.H)+'L1.56 '+(-4.53-datum.H)+'L-5.72 '+(-1.25-datum.H)+'Z':datum.f==='R'?'M-1.56 4.53L5.72 1.25L5.72 '+(1.25-datum.H)+'L-1.56 '+(4.53-datum.H)+'Z':'M-5.72 -1.25L-1.56 4.53L-1.56 '+(4.53-datum.H)+'L-5.72 '+(-1.25-datum.H)+'Z'","as":"path"}],
"mark":{"type":"point","filled":true,"size":4,"stroke":"#3a3a3a","strokeWidth":0.4},
"encoding":{"shape":{"field":"path","type":"nominal","scale":null,"legend":null},"order":{"field":"o","type":"quantitative"},
"opacity":{"condition":{"test":"datum.f==='S'","value":0.3},"value":1},
"color":{"condition":{"test":"datum.f==='S'","value":"#000000"},"field":"v","type":"quantitative","scale":{"domain":[0,300],"range":["#000a8c","#0000ff","#007fff","#00ffff","#7fff7f","#ffff00","#ff7f00","#ff0000","#7f0000"]},
"legend":{"orient":"none","legendX":1111,"legendY":624,"direction":"vertical","title":null,"format":"d","gradientLength":354,"gradientThickness":23.5,"gradientStrokeColor":"#000000","gradientStrokeWidth":1.5,"values":[0,30,60,90,120,150,180,210,240,270,300],"labelFont":"Liberation Serif","labelFontSize":18,"labelColor":"#222222","labelOverlap":false,"labelOffset":9,"encoding":{"labels":{"baseline":{"value":"middle"},"dy":{"value":4}}}}}}},
{"data":{"name":"axes"},
"transform":[{"calculate":"[163.3,521.7,879.3,163,508.3,876.7][datum.p]","as":"ox"},{"calculate":"[435,436.7,436.7,945,946.7,946.7][datum.p]","as":"oy"},
{"calculate":"datum.p<3?[202,-94,-118.3,-164,116.8]:[212,-96,-122,-169,113.4]","as":"g"},
{"calculate":"datum.k==='z'?datum.ox+datum.g[2]:datum.ox","as":"px"},{"calculate":"datum.k==='z'?datum.oy+datum.g[3]:datum.oy","as":"py"},
{"calculate":"datum.k==='x1'?datum.ox+datum.g[0]:datum.ox+datum.g[2]","as":"qx"},
{"calculate":"datum.k==='x1'?datum.oy+datum.g[1]:datum.k==='x2'?datum.oy+datum.g[3]:datum.oy+datum.g[3]-datum.g[4]","as":"qy"}],
"mark":{"type":"rule","color":"#555555","strokeWidth":1.2},
"encoding":{"x2":{"field":"qx"},"y2":{"field":"qy"}}},
{"data":{"name":"ticks"},
"transform":[{"calculate":"[163.3,521.7,879.3,163,508.3,876.7][datum.p]","as":"ox"},{"calculate":"[435,436.7,436.7,945,946.7,946.7][datum.p]","as":"oy"},
{"calculate":"datum.p<3?[202,-94,-118.3,-164,0.1229,250]:[212,-96,-122,-169,0.378,0]","as":"g"},
{"calculate":"datum.k==='x1'?datum.v:0","as":"a"},{"calculate":"datum.k==='x2'?datum.v:(datum.k==='z'?10:0)","as":"b"},{"calculate":"datum.k==='z'?datum.v:datum.g[5]","as":"z"},
{"calculate":"datum.ox+datum.a/10*datum.g[0]+datum.b/10*datum.g[2]","as":"px"},{"calculate":"datum.oy+datum.a/10*datum.g[1]+datum.b/10*datum.g[3]-(datum.z-datum.g[5])*datum.g[4]","as":"py"},
{"calculate":"datum.k==='x2'?datum.px-0.03*datum.g[0]:datum.k==='x1'?datum.px-0.03*datum.g[2]:datum.px+0.03*datum.g[2]","as":"qx"},
{"calculate":"datum.k==='x2'?datum.py-0.03*datum.g[1]:datum.k==='x1'?datum.py-0.03*datum.g[3]:datum.py+0.03*datum.g[3]","as":"qy"}],
"mark":{"type":"rule","color":"#555555","strokeWidth":1},
"encoding":{"x2":{"field":"qx"},"y2":{"field":"qy"}}},
{"data":{"name":"ticks"},
"transform":[{"filter":"datum.k!=='z'"},{"calculate":"[163.3,521.7,879.3,163,508.3,876.7][datum.p]","as":"ox"},{"calculate":"[435,436.7,436.7,945,946.7,946.7][datum.p]","as":"oy"},
{"calculate":"datum.p<3?[202,-94,-118.3,-164]:[212,-96,-122,-169]","as":"g"},
{"calculate":"datum.k==='x1'?datum.ox+datum.v/10*datum.g[0]+9:datum.ox+datum.v/10*datum.g[2]-12","as":"px"},
{"calculate":"datum.k==='x1'?datum.oy+datum.v/10*datum.g[1]+16:datum.oy+datum.v/10*datum.g[3]+13","as":"py"},
{"calculate":"''+datum.v","as":"t"}],
"mark":{"type":"text","font":"Liberation Serif","fontSize":14.5,"color":"#333333","align":"center","baseline":"middle"},
"encoding":{"text":{"field":"t"}}},
{"data":{"name":"ticks"},
"transform":[{"filter":"datum.k==='z'"},{"calculate":"[163.3,521.7,879.3,163,508.3,876.7][datum.p]","as":"ox"},{"calculate":"[435,436.7,436.7,945,946.7,946.7][datum.p]","as":"oy"},
{"calculate":"datum.p<3?[-118.3,-164,0.1229,250]:[-122,-169,0.378,0]","as":"g"},
{"calculate":"datum.ox+datum.g[0]-5.5","as":"px"},
{"calculate":"datum.oy+datum.g[1]-(datum.v-datum.g[3])*datum.g[2]-2","as":"py"},
{"calculate":"''+datum.v","as":"t"}],
"mark":{"type":"text","font":"Liberation Serif","fontSize":14.5,"color":"#333333","align":"right","baseline":"middle"},
"encoding":{"text":{"field":"t"}}},
{"data":{"name":"axes"},
"transform":[{"filter":"datum.k!=='z'"},{"calculate":"[163.3,521.7,879.3,163,508.3,876.7][datum.p]","as":"ox"},{"calculate":"[435,436.7,436.7,945,946.7,946.7][datum.p]","as":"oy"},
{"calculate":"datum.p<3?[202,-94,-118.3,-164]:[212,-96,-122,-169]","as":"g"},
{"calculate":"datum.k==='x1'?datum.ox+0.5*datum.g[0]-1:datum.ox+0.5*datum.g[2]-24","as":"px"},
{"calculate":"datum.k==='x1'?datum.oy+0.5*datum.g[1]+63:datum.oy+0.5*datum.g[3]+82","as":"py"}],
"mark":{"type":"text","font":"Liberation Serif","fontSize":18,"color":"#333333","align":"center","baseline":"middle"},
"encoding":{"text":{"field":"t"}}},
{"data":{"name":"titles"},
"transform":[{"calculate":"[210,567,927,224.5,566,909][datum.p]","as":"px"},{"calculate":"datum.p<3?44:551.5","as":"py"}],
"mark":{"type":"text","font":"Liberation Sans","fontSize":39.6,"color":"#000000","align":"center","baseline":"alphabetic"},
"encoding":{"text":{"field":"t"}}},
{"data":{"name":"titles"},
"transform":[{"calculate":"[210,567,927,224.5,566,909][datum.p]","as":"c"},{"calculate":"[234,220,216,269,278,254][datum.p]","as":"w"},{"calculate":"datum.c-datum.w/2","as":"px"},{"calculate":"datum.c+datum.w/2","as":"qx"},{"calculate":"datum.p<3?50:557.5","as":"py"}],
"mark":{"type":"rule","color":"#000000","strokeWidth":2.2},
"encoding":{"x2":{"field":"qx"},"y2":{"field":"py"}}}
]}
